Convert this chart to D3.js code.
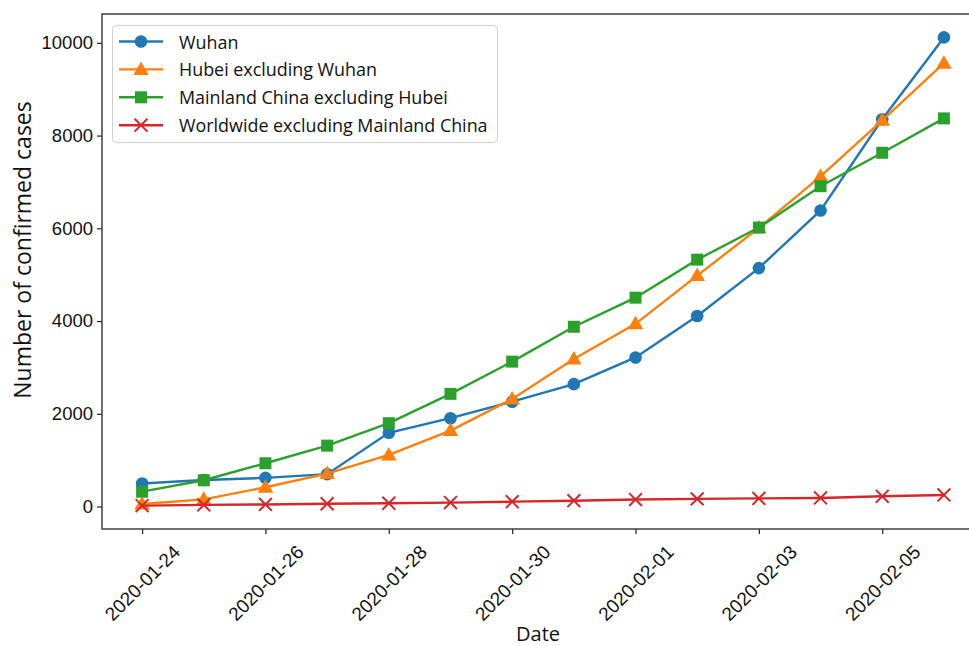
<!DOCTYPE html>
<html>
<head>
<meta charset="utf-8">
<script src="https://cdn.jsdelivr.net/npm/d3@7/dist/d3.min.js"></script>
<style>
  html, body { margin: 0; padding: 0; background: #fff; }
  svg { display: block; font-family: "Open Sans", "Noto Sans", sans-serif; }
</style>
</head>
<body>
<svg id="chart" width="969" height="646"></svg>
<script>
// Confirmed COVID-19 cases by region, 2020-01-24 .. 2020-02-06
const dates = [
  "2020-01-24", "2020-01-25", "2020-01-26", "2020-01-27", "2020-01-28",
  "2020-01-29", "2020-01-30", "2020-01-31", "2020-02-01", "2020-02-02",
  "2020-02-03", "2020-02-04", "2020-02-05", "2020-02-06"
];
const wuhan = [495, 572, 618, 698, 1590, 1905, 2261, 2639, 3215, 4109, 5142, 6384, 8351, 10117];
const hubeiExWuhan = [54, 155, 415, 710, 1112, 1638, 2320, 3180, 3940, 4980, 6010, 7120, 8330, 9560];
const mainlandExHubei = [320, 566, 933, 1313, 1797, 2430, 3125, 3877, 4504, 5324, 6016, 6908, 7629, 8370];
const worldExMainland = [20, 35, 45, 60, 70, 85, 105, 125, 150, 165, 175, 185, 220, 250];

const seriesNames = [
  "Wuhan",
  "Hubei excluding Wuhan",
  "Mainland China excluding Hubei",
  "Worldwide excluding Mainland China"
];
const seriesColors = ["#1f77b4", "#ff7f0e", "#2ca02c", "#d62728"];
const seriesMarkers = ["circle", "triangle", "square", "x"];

const xTickLabels = ["2020-01-24", "2020-01-26", "2020-01-28", "2020-01-30", "2020-02-01", "2020-02-03", "2020-02-05"];
const yTicks = [0, 2000, 4000, 6000, 8000, 10000];

const seriesValues = [wuhan, hubeiExWuhan, mainlandExHubei, worldExMainland];
const series = seriesNames.map((name, i) => ({
  name, color: seriesColors[i], marker: seriesMarkers[i],
  points: dates.map((d, j) => ({ date: new Date(d + "T00:00:00Z"), value: seriesValues[i][j] }))
}));

const svg = d3.select("#chart");
const plot = { left: 102, top: 14, right: 984, bottom: 529 };

// Axis limits padded 5% beyond the data, like the plotting defaults
const t0 = new Date(dates[0] + "T00:00:00Z").getTime();
const t1 = new Date(dates[dates.length - 1] + "T00:00:00Z").getTime();
const tPad = (t1 - t0) * 0.05;
const x = d3.scaleUtc()
  .domain([new Date(t0 - tPad), new Date(t1 + tPad)])
  .range([plot.left, plot.right]);

const allVals = seriesValues.flat();
const vMin = d3.min(allVals), vMax = d3.max(allVals);
const vPad = (vMax - vMin) * 0.05;
const y = d3.scaleLinear()
  .domain([vMin - vPad, vMax + vPad])
  .range([plot.bottom, plot.top]);

svg.append("defs").append("clipPath").attr("id", "plot-clip")
  .append("rect")
  .attr("x", plot.left).attr("y", plot.top)
  .attr("width", plot.right - plot.left).attr("height", plot.bottom - plot.top);

// Axes
const xAxis = d3.axisBottom(x)
  .tickValues(xTickLabels.map(s => new Date(s + "T00:00:00Z")))
  .tickSize(5)
  .tickFormat((d, i) => xTickLabels[i]);
const gx = svg.append("g")
  .attr("transform", `translate(0,${plot.bottom})`)
  .call(xAxis);
gx.select(".domain").remove();
gx.selectAll(".tick line").attr("stroke", "#222").attr("stroke-width", 1.2);
gx.selectAll(".tick text")
  .attr("font-size", 19)
  .attr("fill", "#111")
  .attr("text-anchor", "middle")
  .attr("dy", null)
  .attr("y", null)
  .attr("dominant-baseline", "central")
  .attr("transform", "translate(0,54) rotate(-45)");

const yAxis = d3.axisLeft(y)
  .tickValues(yTicks)
  .tickSize(5)
  .tickPadding(4)
  .tickFormat(d3.format("d"));
const gy = svg.append("g")
  .attr("transform", `translate(${plot.left},0)`)
  .call(yAxis);
gy.select(".domain").remove();
gy.selectAll(".tick line").attr("stroke", "#222").attr("stroke-width", 1.2);
gy.selectAll(".tick text").attr("font-size", 18.5).attr("fill", "#111");

// Series lines and markers
const line = d3.line().x(d => x(d.date)).y(d => y(d.value));

function markerPath(type) {
  if (type === "circle") return d3.symbol(d3.symbolCircle, 125)();
  if (type === "triangle") return d3.symbol(d3.symbolTriangle, 105)();
  if (type === "square") return d3.symbol(d3.symbolSquare, 144)();
  return d3.symbol(d3.symbolX, 110)();
}

const gSeries = svg.append("g").attr("clip-path", "url(#plot-clip)");
series.forEach(s => {
  const g = gSeries.append("g");
  g.append("path")
    .datum(s.points)
    .attr("fill", "none")
    .attr("stroke", s.color)
    .attr("stroke-width", 2.4)
    .attr("d", line);
  const isX = s.marker === "x";
  g.selectAll("path.m")
    .data(s.points)
    .join("path")
    .attr("class", "m")
    .attr("transform", d => `translate(${x(d.date)},${y(d.value) + (s.marker === "triangle" ? 1 : 0)})`)
    .attr("d", markerPath(s.marker))
    .attr("fill", isX ? "none" : s.color)
    .attr("stroke", isX ? s.color : "none")
    .attr("stroke-width", isX ? 2 : 0);
});

// Frame
svg.append("rect")
  .attr("x", plot.left).attr("y", plot.top)
  .attr("width", plot.right - plot.left).attr("height", plot.bottom - plot.top)
  .attr("fill", "none").attr("stroke", "#333").attr("stroke-width", 1.4);

// Axis titles
svg.append("text")
  .attr("x", 538).attr("y", 633)
  .attr("text-anchor", "middle")
  .attr("dominant-baseline", "central")
  .attr("font-size", 20).attr("fill", "#111")
  .text("Date");
svg.append("text")
  .attr("transform", "translate(22,250) rotate(-90)")
  .attr("text-anchor", "middle")
  .attr("dominant-baseline", "central")
  .attr("font-size", 23).attr("fill", "#111")
  .text("Number of confirmed cases");

// Legend
const legend = svg.append("g");
legend.append("rect")
  .attr("x", 112.5).attr("y", 25.5).attr("width", 385).attr("height", 117)
  .attr("rx", 4).attr("fill", "#fff").attr("fill-opacity", 0.85)
  .attr("stroke", "#d0d0d0").attr("stroke-width", 1);
series.forEach((s, i) => {
  const cy = 41.5 + i * 27.9;
  const isX = s.marker === "x";
  legend.append("line")
    .attr("x1", 119).attr("x2", 163).attr("y1", cy).attr("y2", cy)
    .attr("stroke", s.color).attr("stroke-width", 2.4);
  legend.append("path")
    .attr("transform", `translate(141,${cy + (s.marker === "triangle" ? 1 : 0)})`)
    .attr("d", markerPath(s.marker))
    .attr("fill", isX ? "none" : s.color)
    .attr("stroke", isX ? s.color : "none")
    .attr("stroke-width", isX ? 2 : 0);
  legend.append("text")
    .attr("x", 179).attr("y", cy)
    .attr("dominant-baseline", "central")
    .attr("font-size", 17.9).attr("fill", "#111")
    .text(s.name);
});
</script>
</body>
</html>
